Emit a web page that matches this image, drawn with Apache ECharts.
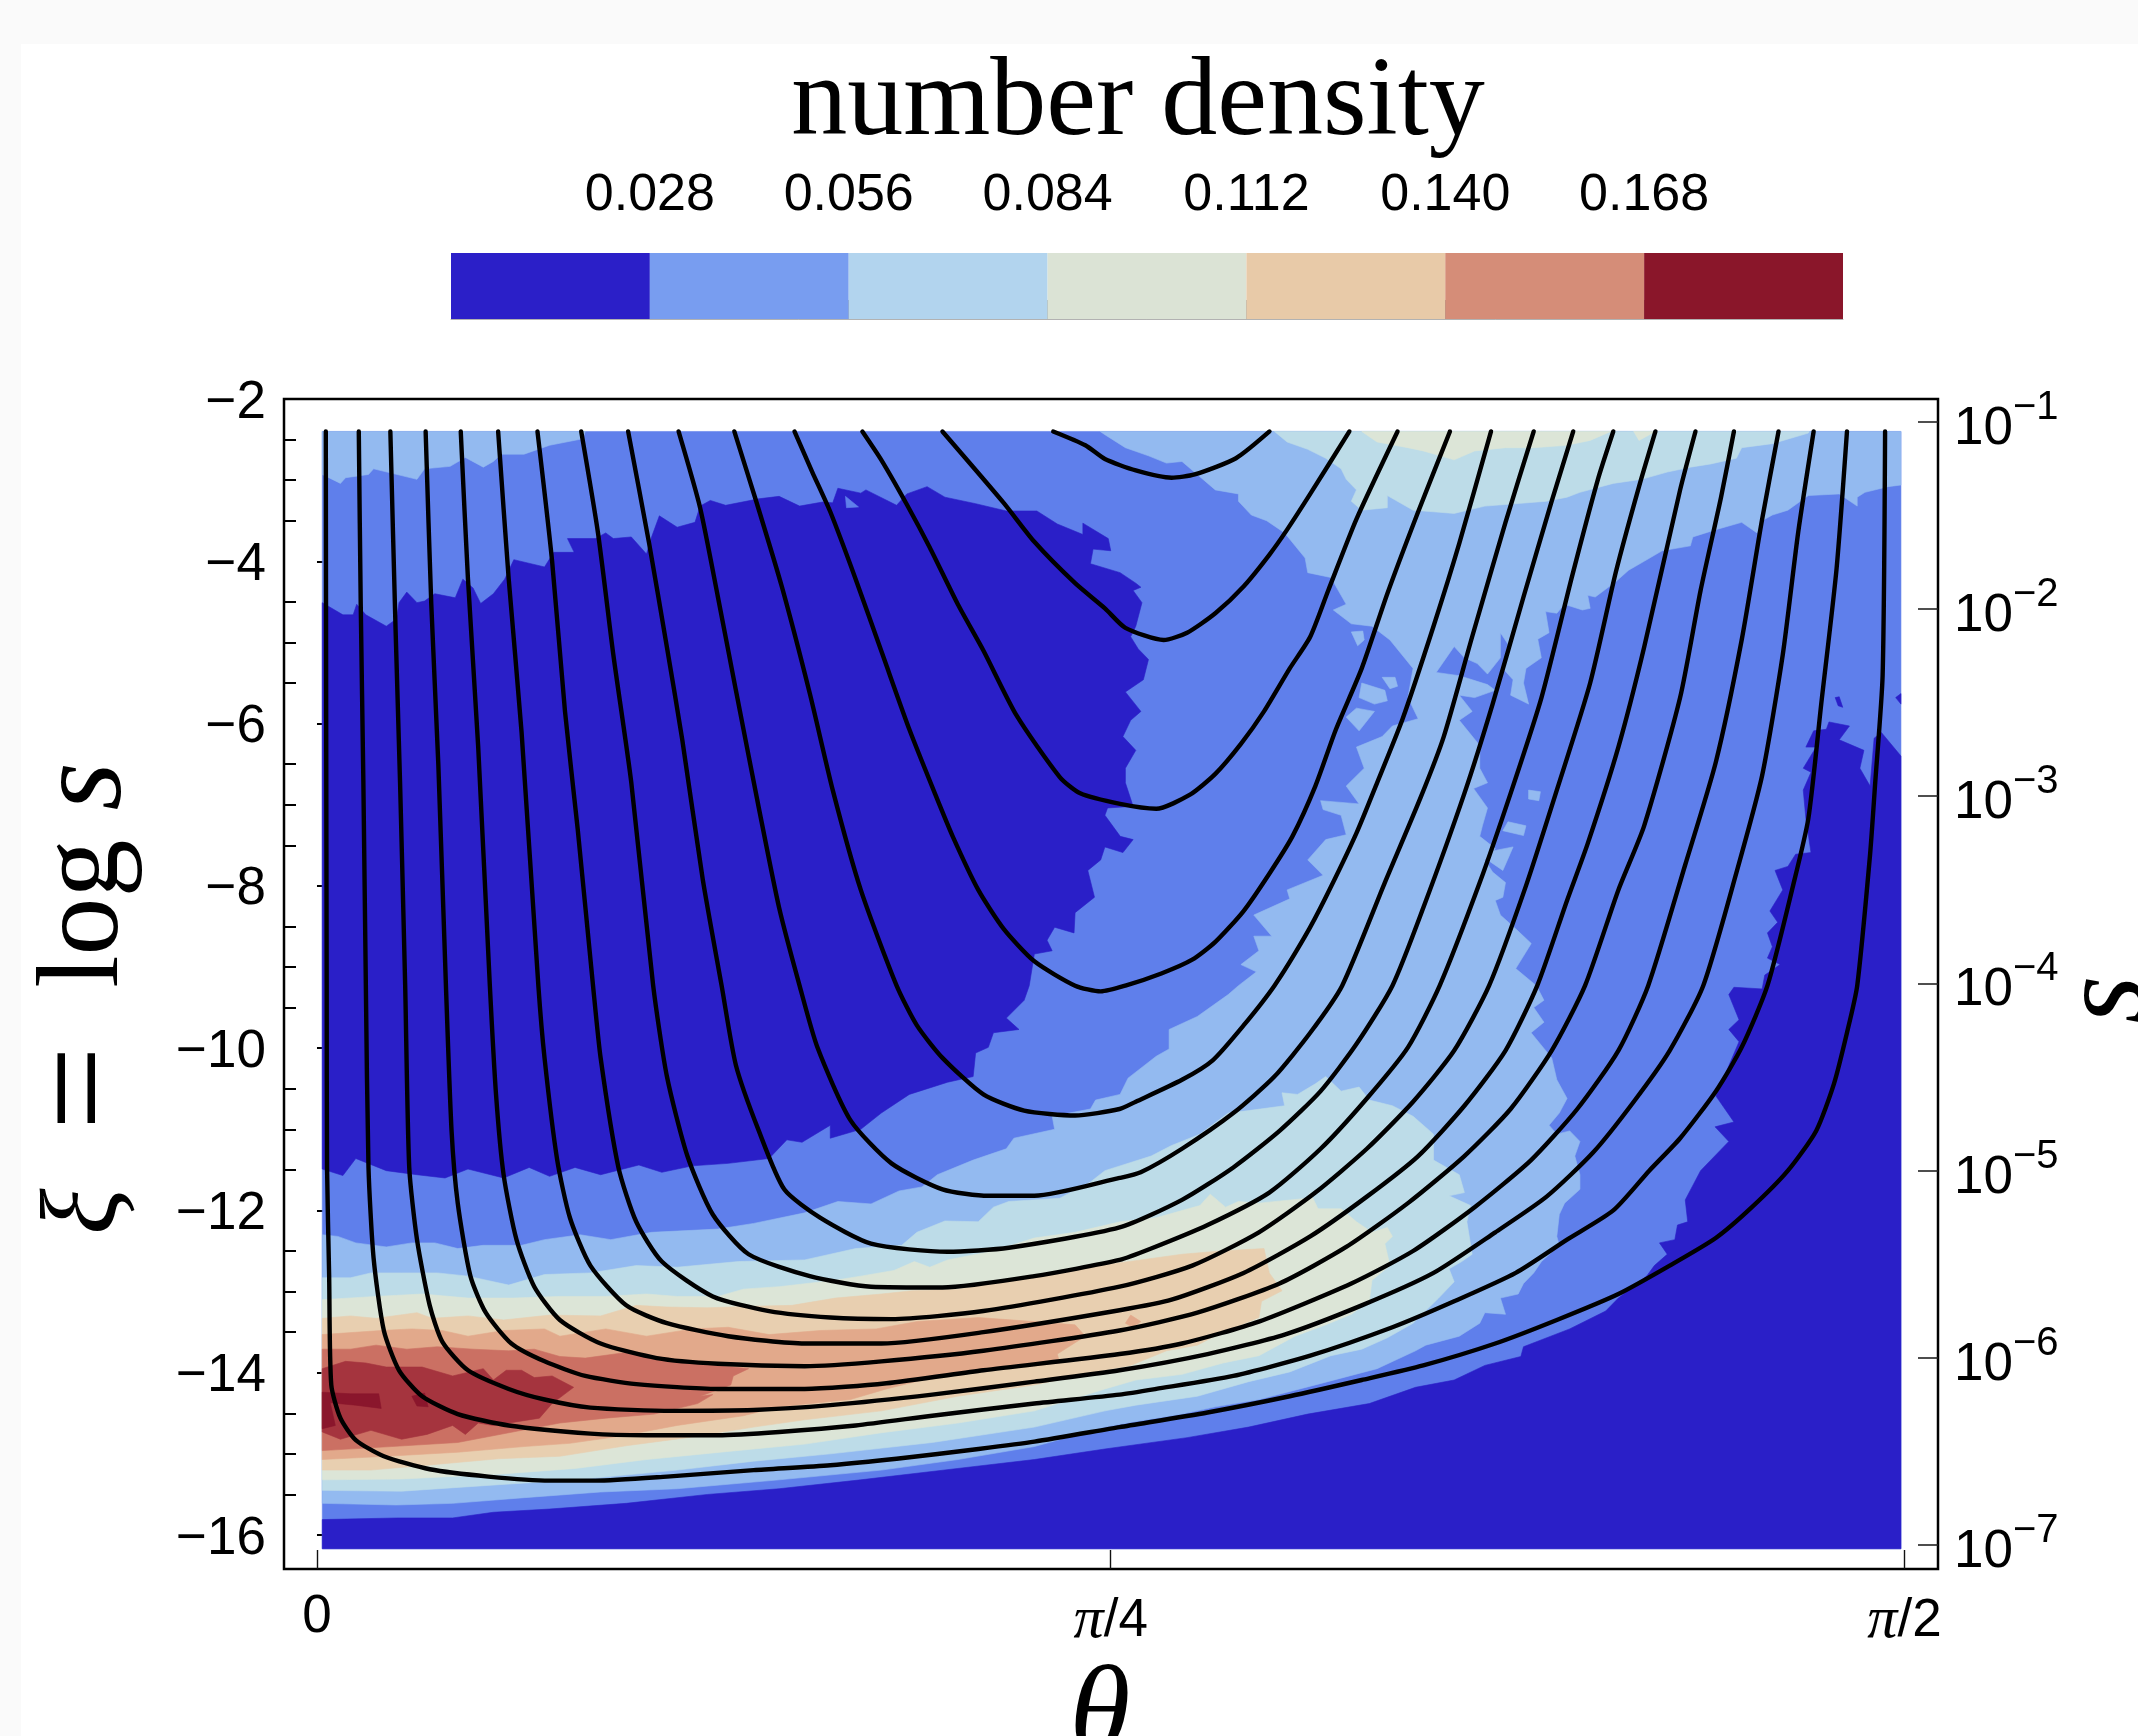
<!DOCTYPE html>
<html><head><meta charset="utf-8"><style>
html,body{margin:0;padding:0;width:2138px;height:1736px;overflow:hidden;background:#fafafa}
#paper{position:absolute;left:21px;top:44px;right:0;bottom:0;background:#fff}
#main{position:absolute;left:0;top:0;width:2138px;height:1736px}
</style></head><body><div id="paper"></div><div id="main"></div>
<script src="https://cdn.jsdelivr.net/npm/echarts@6/dist/echarts.min.js"></script>
<script>
// x values are theta in degrees (0 .. 90 = 0 .. pi/2); y values are xi = log s
const thetaTicks=[0,45,90];
const thetaTickLabels=['0','{i|π}/4','{i|π}/2'];
const xiMajor=[-2,-4,-6,-8,-10,-12,-14,-16];
const xiMinor=[-2.5,-3,-3.5,-4.5,-5,-5.5,-6.5,-7,-7.5,-8.5,-9,-9.5,-10.5,-11,-11.5,-12.5,-13,-13.5,-14.5,-15,-15.5];
const logSTicks=[-1,-2,-3,-4,-5,-6,-7];
const densityTicks=[0.028,0.056,0.084,0.112,0.140,0.168];
const densityEdges=[0,0.028,0.056,0.084,0.112,0.140,0.168,0.196];

const barColors=['#2B1FC8','#789DF0','#B2D4EE','#DBE3D5','#E8CAA8','#D58D78','#8A162A'];
const bandColor={dark:'#2A1FC8',mid:'#5F7FEB',light:'#93BAF0',pale:'#BDDCE8',green:'#DCE5D7',tan:'#E8CFB0',salmon:'#E2A98B',rose:'#CB7063',red:'#A5343E',deep:'#8A162C'};

// filled density bands
const bandAll=[[0.3,-2.4],[89.8,-2.4],[89.8,-16.17],[0.3,-16.17]];
const darkUpper=[[0.3,-4.51],[1.47,-4.66],[2.05,-4.66],[2.25,-4.53],[2.77,-4.66],[3.93,-4.8],[4.51,-4.71],[4.65,-4.51],[5.09,-4.38],[5.67,-4.51],[6.1,-4.49],[6.68,-4.4],[7.84,-4.45],[8.27,-4.22],[8.85,-4.33],[9.28,-4.52],[10,-4.4],[10.64,-4.22],[11.16,-3.98],[12.9,-4.07],[13.42,-3.89],[14.58,-3.89],[14.2,-3.72],[15.79,-3.72],[16.37,-3.65],[16.8,-3.72],[17.82,-3.7],[18.68,-3.91],[18.97,-3.7],[19.41,-3.44],[20.42,-3.58],[21.43,-3.52],[21.72,-3.32],[22.3,-3.25],[23.17,-3.31],[25.05,-3.23],[26.2,-3.2],[27.36,-3.32],[28.66,-3.27],[29.24,-3.28],[29.53,-3.1],[30.83,-3.16],[31.12,-3.12],[32.86,-3.31],[33.44,-3.17],[34.59,-3.08],[35.6,-3.21],[37.34,-3.29],[39.08,-3.38],[40.81,-3.38],[41.97,-3.54],[43.42,-3.67],[43.42,-3.53],[44.86,-3.72],[45,-3.87],[44,-3.85],[43.85,-4.03],[45.53,-4.14],[46.42,-4.27],[46.71,-4.32],[46.27,-4.36],[46.77,-4.51],[46.42,-4.8],[46.13,-4.93],[46.56,-5.08],[47.14,-5.21],[46.85,-5.46],[45.83,-5.61],[46.71,-5.85],[46.13,-5.96],[45.69,-6.16],[46.42,-6.33],[45.83,-6.55],[45.83,-6.73],[46.27,-7.02],[44.82,-7.04],[44.67,-7.13],[45.54,-7.39],[46.27,-7.43],[45.69,-7.59],[44.67,-7.52],[44.43,-7.68],[43.7,-7.81],[44.08,-8.14],[42.98,-8.33],[42.92,-8.58],[41.82,-8.51],[41.39,-8.67],[41.68,-8.8],[40.67,-8.84],[40.38,-9.23],[40.09,-9.41],[39.08,-9.63],[39.8,-9.77],[38.35,-9.81],[38.06,-9.99],[37.34,-10.06],[37.2,-10.35],[35.75,-10.42],[33.58,-10.57],[31.99,-10.8],[30.83,-11],[29.1,-11.11],[29.1,-10.95],[27.5,-11.16],[26.64,-11.13],[25.63,-11.36],[23.31,-11.42],[21.29,-11.45],[19.55,-11.53],[18.25,-11.44],[16.08,-11.56],[14.63,-11.47],[13.19,-11.58],[12.03,-11.47],[10.58,-11.6],[8.56,-11.49],[7.26,-11.6],[5.67,-11.56],[3.93,-11.51],[2.2,-11.36],[1.47,-11.57],[0.3,-11.49]];
const darkLower=[[0.3,-15.81],[4.51,-15.79],[7.69,-15.79],[10,-15.72],[13.19,-15.68],[17.53,-15.61],[22.15,-15.5],[26.2,-15.43],[30.83,-15.32],[36.33,-15.18],[40.67,-15.07],[44.67,-14.94],[49.33,-14.8],[52.82,-14.67],[56.17,-14.51],[59.66,-14.38],[62.28,-14.18],[64.47,-14.09],[66.21,-13.91],[68.25,-13.8],[68.4,-13.68],[71.02,-13.46],[73.06,-13.24],[73.78,-13.08],[75.38,-12.81],[75.82,-12.68],[76.55,-12.54],[76.11,-12.4],[76.98,-12.36],[77.13,-12.18],[77.71,-12.14],[77.57,-11.87],[78.44,-11.51],[80.04,-11.15],[79.26,-10.97],[80.33,-10.91],[79.31,-10.59],[80.62,-9.92],[80.04,-9.77],[80.62,-9.65],[80.04,-9.34],[80.33,-9.25],[81.93,-9.27],[82.08,-9.1],[82.95,-8.97],[82.23,-8.89],[82.51,-8.75],[82.23,-8.58],[82.81,-8.45],[82.37,-8.31],[83.1,-8.05],[82.66,-7.81],[83.39,-7.76],[83.83,-7.61],[84.7,-7.59],[84.41,-7.17],[84.26,-6.82],[84.7,-6.6],[84.26,-6.55],[84.99,-6.29],[84.41,-6.29],[84.85,-6.09],[85.57,-6.07],[85.72,-5.98],[86.88,-6.03],[86.3,-6.2],[87.7,-6.33],[87.47,-6.55],[88.05,-6.77],[88.28,-6.18],[88.69,-6.11],[89.8,-6.4],[89.8,-16.17],[0.3,-16.17]];
const darkSpotA=[[86.07,-5.68],[86.3,-5.67],[86.5,-5.8],[86.24,-5.78]];
const darkSpotB=[[89.5,-5.68],[89.8,-5.63],[89.8,-5.76]];
const midIsland=[[29.96,-3.2],[30.7,-3.33],[30.02,-3.34]];
const lightTopLeft=[[0.3,-2.4],[15.21,-2.4],[15.07,-2.49],[13.19,-2.57],[11.74,-2.68],[10.44,-2.68],[10,-2.77],[9.43,-2.84],[8.41,-2.72],[7.55,-2.83],[6.1,-2.86],[5.67,-2.99],[3.21,-2.86],[2.92,-2.93],[1.62,-2.97],[1.33,-3.04],[0.3,-2.93]];
const lightMain=[[0.3,-12.3],[1.18,-12.32],[2.2,-12.4],[3.93,-12.45],[5.38,-12.4],[6.68,-12.4],[7.98,-12.47],[9.43,-12.43],[11.6,-12.43],[12.9,-12.36],[14.92,-12.3],[16.66,-12.36],[18.97,-12.27],[22.73,-12.23],[24.76,-12.16],[27.65,-12.03],[29.53,-11.89],[31.41,-11.92],[33,-11.76],[34.3,-11.71],[35.17,-11.56],[37.2,-11.38],[39.08,-11.24],[39.51,-11.11],[41.82,-11],[41.68,-10.84],[43.85,-10.75],[44.14,-10.64],[45.53,-10.57],[45.98,-10.37],[47.58,-10.1],[48.31,-10.01],[48.31,-9.77],[49.91,-9.61],[51.66,-9.34],[52.24,-9.23],[53.26,-9.06],[52.38,-8.97],[53.4,-8.8],[53.11,-8.62],[54.13,-8.62],[53.11,-8.36],[55.15,-8.16],[55,-8.05],[57.04,-7.87],[56.17,-7.68],[57.19,-7.43],[58.35,-7.37],[58.06,-7.13],[57.04,-7.06],[56.9,-6.95],[59.08,-6.99],[58.35,-6.77],[59.37,-6.55],[58.93,-6.29],[60.39,-6.16],[60.97,-6.03],[62.43,-5.94],[61.85,-5.68],[62.14,-5.32],[60.83,-4.97],[59.81,-4.8],[58.64,-4.77],[57.62,-4.6],[58.35,-4.53],[57.48,-4.2],[56.17,-4.14],[56.02,-3.96],[54.86,-3.65],[53.84,-3.5],[52.97,-3.43],[52.24,-3.26],[52.24,-3.17],[50.93,-3.12],[49.04,-2.77],[48.16,-2.79],[47.14,-2.7],[45.83,-2.6],[44.67,-2.44],[44.4,-2.4],[89.8,-2.4],[89.8,-3.06],[89.07,-3.08],[87.76,-3.15],[87.32,-3.21],[87.32,-3.32],[86.3,-3.17],[84.55,-3.19],[83.39,-3.37],[82.51,-3.43],[81.93,-3.5],[81.64,-3.65],[80.77,-3.52],[79.31,-3.61],[78,-3.7],[77.86,-3.81],[76.26,-3.87],[75.24,-4],[74.36,-4.11],[73.64,-4.25],[72.47,-4.44],[72.04,-4.42],[72.18,-4.58],[71.74,-4.6],[70.72,-4.53],[70.29,-4.64],[69.65,-4.62],[69.85,-4.88],[69.21,-4.96],[69.41,-5.19],[68.54,-5.32],[68.4,-5.5],[68.69,-5.76],[67.67,-5.65],[67.81,-5.46],[67.23,-5.32],[67.52,-5.02],[67.09,-4.88],[67.09,-5.19],[66.36,-5.39],[65.78,-5.26],[65.05,-5.19],[64.47,-5.05],[63.45,-5.37],[64.76,-5.41],[66.36,-5.52],[66.8,-5.59],[65.63,-5.68],[64.76,-5.65],[65.49,-5.85],[64.76,-5.96],[65.92,-6.27],[65.92,-6.55],[66.36,-6.73],[65.57,-6.8],[66.36,-7.04],[66.07,-7.26],[65.92,-7.39],[66.8,-7.54],[66.21,-7.68],[66.65,-7.83],[67.38,-7.96],[67.23,-8.14],[66.8,-8.18],[67.09,-8.36],[67.96,-8.53],[68.84,-8.71],[67.96,-9.02],[69.13,-9.23],[69.56,-9.41],[68.98,-9.5],[69.56,-9.68],[68.83,-9.81],[70,-10.12],[70.29,-10.39],[70.87,-10.62],[70.43,-10.8],[69.85,-10.95],[70.29,-11.06],[71.02,-11.02],[71.6,-11.15],[71.31,-11.33],[71.6,-11.56],[71.6,-11.74],[70.73,-11.91],[70.43,-12.05],[70.29,-12.32],[70.43,-12.43],[69.42,-12.63],[68.98,-12.77],[68.4,-12.9],[68.1,-13.03],[67.09,-13.08],[67.38,-13.28],[66.21,-13.26],[65.92,-13.39],[64.76,-13.55],[62.86,-13.66],[62.28,-13.73],[60.1,-13.95],[56.6,-14.15],[53.4,-14.33],[50.93,-14.42],[49.04,-14.51],[46.42,-14.6],[44.67,-14.67],[40.67,-14.91],[36.33,-15.07],[32,-15.2],[26.2,-15.32],[20.42,-15.43],[16.08,-15.47],[11.74,-15.54],[7.69,-15.61],[4.51,-15.63],[0.3,-15.61]];
const lightIslandA=[[58.64,-4.87],[59.29,-4.86],[59.37,-4.97],[59,-5.04]];
const lightIslandB=[[60.39,-5.43],[61.12,-5.43],[61.26,-5.54],[60.83,-5.57]];
const lightIslandC=[[59.23,-5.5],[60.54,-5.59],[60.68,-5.72],[59.95,-5.76],[59.08,-5.68]];
const lightIslandD=[[58.93,-5.81],[59.95,-5.85],[59.08,-6.09],[58.35,-5.92]];
const lightIslandE=[[68.69,-6.82],[69.36,-6.84],[69.27,-6.95],[68.69,-6.93]];
const lightIslandF=[[67.52,-7.21],[68.54,-7.26],[68.4,-7.38],[67.23,-7.32]];
const lightIslandG=[[66.65,-7.57],[67.81,-7.52],[67.23,-7.81],[66.36,-7.68]];
const paleTop=[[54.28,-2.4],[55,-2.53],[56.17,-2.62],[57.19,-2.73],[58.06,-2.86],[58.35,-2.99],[58.93,-3.12],[58.64,-3.26],[59.23,-3.37],[60.68,-3.34],[60.68,-3.19],[62.14,-3.37],[63.3,-3.39],[64.47,-3.41],[66.21,-3.32],[67.38,-3.3],[69.71,-3.26],[70.87,-3.21],[71.6,-3.15],[73.49,-3.04],[75.09,-2.99],[76.55,-2.9],[77.86,-2.84],[79.02,-2.8],[80.47,-2.73],[80.77,-2.6],[82.51,-2.55],[84.55,-2.42],[84.6,-2.4]];
const greenTop=[[59.23,-2.4],[60.1,-2.53],[61.85,-2.6],[62.72,-2.64],[64.47,-2.75],[65.63,-2.64],[67.38,-2.6],[68.98,-2.6],[70.87,-2.57],[72.18,-2.51],[73.35,-2.4]];
const greenTopSmall=[[74.65,-2.4],[74.95,-2.51],[75.88,-2.4]];
const paleMain=[[0.3,-12.83],[1.9,-12.83],[3.06,-12.77],[4.8,-12.77],[6.82,-12.77],[8.56,-12.81],[10.87,-12.92],[12.9,-12.79],[15.5,-12.77],[18.1,-12.68],[20.42,-12.7],[23.89,-12.63],[27.65,-12.61],[30.54,-12.47],[33.15,-12.43],[34.01,-12.27],[35.6,-12.13],[37.49,-12.14],[38.35,-11.96],[39.22,-11.89],[42.11,-11.85],[43.85,-11.65],[44.67,-11.51],[47.29,-11.33],[48.45,-11.2],[50.06,-11.06],[51.66,-10.8],[52.82,-10.77],[54.86,-10.71],[54.71,-10.55],[55.59,-10.57],[56.6,-10.44],[57.19,-10.35],[58.06,-10.53],[59.08,-10.48],[59.66,-10.64],[60.97,-10.71],[62.14,-10.84],[63.3,-11.06],[63.3,-11.38],[64.76,-11.56],[65.05,-11.78],[64.18,-11.82],[65.4,-11.94],[65.19,-12.14],[65.49,-12.54],[64.9,-12.63],[64.18,-12.72],[64.47,-12.88],[63.59,-13.08],[62.14,-13.39],[60.68,-13.57],[59.23,-13.71],[57.48,-13.79],[55.15,-13.99],[52.82,-14.11],[49.91,-14.29],[46.42,-14.4],[44.67,-14.47],[40.67,-14.67],[34.88,-14.86],[29.1,-15],[24.76,-15.09],[20.42,-15.2],[14.63,-15.32],[10.29,-15.38],[4.8,-15.46],[0.3,-15.45]];
const greenMain=[[0.3,-13.1],[3.35,-13.06],[5.96,-13.03],[8.56,-13.08],[11.16,-13.08],[13.77,-13.06],[16.37,-13.06],[18.68,-13.03],[20.42,-13.06],[22.73,-13.06],[24.18,-12.97],[26.2,-12.94],[29.39,-12.86],[30.83,-12.81],[32.71,-12.74],[33.87,-12.63],[34.74,-12.7],[35.75,-12.61],[38.35,-12.5],[40.67,-12.34],[42.98,-12.27],[45.53,-12.14],[47.58,-12.09],[50.06,-11.94],[50.64,-11.8],[51.51,-11.96],[52.24,-11.89],[53.4,-11.91],[56.17,-11.85],[56.31,-11.78],[56.75,-11.98],[58.06,-11.98],[58.93,-12.14],[59.81,-12.27],[60.68,-12.21],[60.97,-12.32],[60.54,-12.41],[60.83,-12.68],[59.81,-12.86],[59.66,-13.12],[58.64,-13.28],[57.19,-13.41],[55.44,-13.55],[53.4,-13.79],[51.37,-13.88],[49.04,-14.02],[46.42,-14.09],[44.67,-14.2],[40.67,-14.47],[36.33,-14.62],[32,-14.74],[27.65,-14.88],[23.31,-14.97],[18.68,-15.07],[14.63,-15.18],[10.29,-15.25],[4.8,-15.31],[0.3,-15.32]];
const tanMain=[[0.3,-13.33],[1.9,-13.3],[3.35,-13.33],[5.67,-13.26],[6.53,-13.33],[8.56,-13.3],[10.58,-13.35],[13.19,-13.29],[16.08,-13.3],[18.1,-13.17],[19.84,-13.19],[22.15,-13.2],[24.76,-13.18],[26.93,-13.17],[29.39,-13.08],[32,-13.03],[33.73,-12.99],[36.33,-12.97],[40.67,-12.81],[43.56,-12.7],[46.71,-12.61],[49.04,-12.54],[51.22,-12.5],[53.69,-12.47],[53.99,-12.77],[54.71,-12.99],[53.55,-13.12],[53.4,-13.32],[51.07,-13.53],[49.91,-13.66],[48.16,-13.73],[46.13,-13.91],[44.67,-13.97],[40.67,-14.15],[36.33,-14.29],[32,-14.47],[27.65,-14.58],[24.76,-14.67],[21,-14.8],[17.53,-14.9],[13.77,-15.03],[10.29,-15.06],[6.24,-15.14],[3.06,-15.2],[0.3,-15.2]];
const salmonMain=[[0.3,-13.53],[3.64,-13.48],[5.38,-13.46],[7.11,-13.48],[8.56,-13.55],[10.58,-13.48],[12.9,-13.46],[13.77,-13.55],[16.37,-13.46],[18.68,-13.55],[21.29,-13.46],[23.31,-13.44],[25.63,-13.53],[28.52,-13.48],[31.7,-13.46],[34.01,-13.37],[37.49,-13.32],[40.67,-13.37],[42.98,-13.41],[43.56,-13.55],[41.97,-13.77],[42.11,-13.88],[40.09,-13.93],[37.78,-13.97],[34.88,-14.06],[32.28,-14.2],[30.25,-14.33],[26.2,-14.42],[24.18,-14.53],[20.42,-14.65],[17.24,-14.78],[14.34,-14.87],[11.74,-14.91],[7.98,-14.98],[3.93,-15.03],[0.3,-15.07]];
const salmonStar=[[45.83,-13.39],[46.13,-13.29],[46.71,-13.37],[46.27,-13.44]];
const roseMain=[[0.3,-13.71],[1.9,-13.71],[3.35,-13.66],[5.09,-13.71],[6.82,-13.68],[8.85,-13.71],[10.87,-13.73],[12.32,-13.71],[13.77,-13.8],[15.21,-13.82],[17.53,-13.75],[19.84,-13.82],[22.73,-13.91],[24.47,-13.95],[23.6,-14.04],[23.46,-14.15],[21.72,-14.29],[22.44,-14.27],[21.58,-14.38],[19.12,-14.51],[16.37,-14.56],[13.77,-14.62],[10.87,-14.74],[7.98,-14.86],[4.22,-14.91],[0.3,-14.96]];
const redMain=[[0.3,-13.95],[1.62,-13.86],[2.77,-13.88],[3.93,-13.93],[5.96,-13.93],[7.69,-14.04],[9.43,-13.95],[10,-14.09],[10.73,-13.97],[11.6,-13.97],[12.32,-14.06],[13.33,-14.04],[14.55,-14.18],[13.33,-14.38],[12.61,-14.56],[11.45,-14.6],[10,-14.65],[9.14,-14.62],[8.41,-14.76],[7.69,-14.65],[6.24,-14.76],[4.8,-14.82],[3.06,-14.71],[1.33,-14.82],[0.3,-14.73]];
const deepMain=[[0.3,-14.24],[1.9,-14.26],[3.5,-14.26],[3.64,-14.44],[2.2,-14.4],[0.75,-14.37],[1.04,-14.65],[0.3,-14.69]];
const deepStar=[[5.38,-14.29],[6.1,-14.25],[6.3,-14.42],[5.67,-14.41]];

// black level curves (outermost first)
const curve01=[[0.5,-2.4],[0.52,-5.85],[0.55,-9.23],[0.57,-11.47],[0.69,-12.81],[0.81,-14.15],[1.33,-14.56],[2.2,-14.83],[3.79,-15.03],[6.39,-15.19],[9.72,-15.28],[13.19,-15.33],[15.79,-15.33],[19.84,-15.28],[24.76,-15.2],[29.1,-15.14],[32.86,-15.06],[37.5,-14.94],[40.67,-14.85],[45.5,-14.67],[50.49,-14.49],[55.15,-14.29],[59.23,-14.09],[62.72,-13.91],[66.8,-13.64],[70.29,-13.35],[73.78,-13.03],[76.69,-12.68],[79.3,-12.34],[81.35,-11.96],[83.39,-11.51],[84.99,-11.02],[86,-10.44],[86.74,-9.81],[87.32,-9.23],[88.05,-7.61],[88.34,-6.73],[88.76,-5.41],[88.9,-2.4]];
const curve02=[[2.37,-2.4],[2.48,-4.53],[2.63,-6.73],[2.77,-9.23],[2.92,-11.47],[3.21,-12.59],[3.79,-13.48],[4.65,-13.97],[5.96,-14.29],[7.98,-14.51],[10.87,-14.65],[15.5,-14.75],[18.68,-14.77],[22.73,-14.77],[26.2,-14.73],[30.54,-14.65],[34.88,-14.53],[40.67,-14.38],[45.5,-14.27],[47.58,-14.2],[51.95,-14.04],[56.31,-13.79],[60.97,-13.44],[64.47,-13.12],[67.96,-12.77],[70.87,-12.36],[73.49,-12],[75.53,-11.51],[77.28,-11.11],[79.31,-10.53],[80.77,-9.99],[82.23,-9.23],[83.68,-8],[84.55,-7.17],[85.28,-5.76],[86.15,-4.09],[86.74,-2.4]];
const curve03=[[4.16,-2.4],[4.45,-4.8],[4.71,-6.73],[5,-9.23],[5.23,-11.47],[5.67,-12.36],[6.39,-13.17],[7.11,-13.62],[8.56,-13.97],[10.87,-14.2],[12.9,-14.33],[15.5,-14.43],[20.13,-14.47],[24.76,-14.46],[29.1,-14.4],[34.88,-14.27],[40.67,-14.11],[45.5,-13.97],[50.49,-13.77],[54.86,-13.53],[59.23,-13.17],[63.3,-12.77],[66.8,-12.27],[69.71,-11.83],[72.33,-11.29],[74.65,-10.66],[76.69,-10.03],[78.59,-9.23],[80.48,-7.83],[81.93,-6.64],[83.1,-5.15],[83.97,-3.65],[84.85,-2.4]];
const curve04=[[6.16,-2.4],[6.48,-4.53],[6.88,-6.51],[7.31,-9.23],[7.63,-11.02],[7.98,-11.91],[8.7,-12.81],[9.57,-13.26],[11.02,-13.64],[12.9,-13.86],[15.21,-14.04],[18.1,-14.14],[22.73,-14.2],[27.65,-14.2],[32.28,-14.13],[37.78,-13.97],[45.5,-13.77],[49.04,-13.64],[53.4,-13.37],[58.64,-12.9],[62.14,-12.5],[65.63,-11.96],[68.83,-11.38],[71.45,-10.75],[73.78,-10.03],[75.47,-9.23],[77.57,-7.74],[79.31,-6.47],[80.77,-4.97],[81.93,-3.48],[82.86,-2.4]];
const curve05=[[8.15,-2.4],[8.56,-4.22],[9.14,-6.29],[9.8,-9.23],[10.15,-10.57],[10.58,-11.56],[11.31,-12.36],[12.32,-12.94],[13.77,-13.35],[16.08,-13.64],[19.26,-13.82],[22.73,-13.89],[27.65,-13.92],[32,-13.86],[37.78,-13.73],[45.5,-13.48],[49.91,-13.26],[54.57,-12.9],[58.35,-12.45],[61.85,-11.91],[65.05,-11.33],[67.67,-10.75],[70,-10.03],[71.89,-9.23],[73.78,-8.05],[75.24,-7.26],[77.28,-5.68],[78.44,-4.36],[79.6,-3.21],[80.33,-2.4]];
const curve06=[[10.27,-2.4],[10.87,-4.22],[11.6,-6.11],[12.55,-9.23],[12.9,-10.12],[13.62,-11.38],[14.34,-12.09],[15.5,-12.68],[17.53,-13.17],[19.84,-13.39],[23.31,-13.55],[27.65,-13.64],[32,-13.64],[37.78,-13.5],[45.5,-13.23],[48.45,-13.1],[52.53,-12.77],[56.31,-12.32],[59.52,-11.83],[62.43,-11.33],[65.05,-10.71],[67.38,-10.03],[69.18,-9.23],[70.87,-8.18],[72.04,-7.48],[73.78,-6.29],[75.24,-5.06],[77.28,-3.12],[78.15,-2.4]];
const curve07=[[12.5,-2.4],[13.33,-4],[14.06,-5.85],[14.78,-7.3],[15.65,-9.23],[16.08,-10.12],[17.09,-11.47],[18.1,-12.14],[19.55,-12.63],[22.44,-13.06],[25.63,-13.24],[29.1,-13.32],[32.57,-13.34],[37.78,-13.24],[45.5,-12.94],[49.62,-12.68],[53.4,-12.27],[56.6,-11.78],[59.52,-11.24],[62.14,-10.66],[64.47,-10.03],[66.45,-9.23],[68.54,-8],[70.29,-6.82],[72.18,-5.5],[73.64,-4.13],[74.95,-3.08],[75.88,-2.4]];
const curve08=[[14.98,-2.4],[15.93,-3.65],[16.8,-5.15],[17.82,-6.73],[19.06,-9.23],[19.84,-10.35],[21,-11.33],[22.44,-12.05],[24.47,-12.54],[27.94,-12.81],[31.41,-12.94],[35.46,-12.95],[40.67,-12.81],[45.5,-12.61],[47.29,-12.47],[50.49,-12.18],[53.99,-11.78],[56.9,-11.24],[59.52,-10.62],[61.85,-9.99],[63.65,-9.23],[65.92,-7.96],[67.67,-6.86],[69.42,-5.68],[71.16,-4.18],[72.62,-2.99],[73.49,-2.4]];
const curve09=[[17.64,-2.4],[18.83,-3.78],[19.84,-5.06],[20.71,-6.2],[21.87,-7.92],[22.94,-9.23],[23.75,-10.21],[25.05,-11.02],[26.49,-11.74],[28.52,-12.09],[31.41,-12.41],[35.75,-12.51],[39.22,-12.46],[45.5,-12.21],[49.04,-11.87],[51.95,-11.47],[54.57,-11.02],[56.9,-10.53],[58.93,-9.95],[60.97,-9.23],[62.72,-8.27],[65.05,-6.86],[66.65,-5.76],[68.4,-4.44],[70,-3.26],[71.22,-2.4]];
const curve10=[[20.5,-2.4],[21.72,-3.34],[22.73,-4.44],[23.75,-5.59],[25.05,-7.04],[26.2,-8.27],[27.36,-9.23],[28.37,-9.99],[30.25,-10.89],[32.57,-11.42],[35.46,-11.74],[38.06,-11.82],[40.67,-11.82],[45.5,-11.6],[46.7,-11.53],[49.04,-11.24],[51.95,-10.8],[54.28,-10.35],[56.31,-9.81],[58.12,-9.23],[60.54,-7.96],[62.57,-6.91],[63.88,-6.16],[65.49,-4.93],[67.38,-3.52],[68.98,-2.4]];
const curve11=[[23.66,-2.4],[24.9,-3.26],[26.35,-4.31],[27.94,-5.63],[29.24,-6.82],[30.83,-8.05],[32.86,-9.23],[34.01,-9.72],[35.46,-10.12],[37.78,-10.57],[40.09,-10.77],[42.98,-10.83],[45.5,-10.75],[46.42,-10.66],[49.04,-10.39],[50.78,-10.15],[52.53,-9.72],[54.28,-9.23],[56.02,-8.62],[57.19,-8.14],[58.93,-7.35],[60.1,-6.73],[61.55,-5.94],[63.3,-4.8],[64.76,-3.78],[66.56,-2.4]];
const curve12=[[27.07,-2.4],[28.08,-2.9],[29.1,-3.39],[30.54,-4.22],[32.13,-5.19],[33.58,-6.07],[35.03,-6.86],[36.04,-7.39],[37.49,-8.05],[38.93,-8.53],[40.67,-8.93],[42.98,-9.23],[44.43,-9.3],[45.83,-9.23],[47.87,-9.08],[49.62,-8.91],[50.93,-8.69],[52.53,-8.31],[53.99,-7.85],[55.3,-7.39],[56.6,-6.77],[57.77,-6.07],[59.23,-5.32],[60.68,-4.4],[62.43,-3.39],[64.23,-2.4]];
const curve13=[[30.92,-2.4],[31.99,-2.75],[33.44,-3.3],[34.74,-3.83],[36.33,-4.53],[37.78,-5.1],[39.66,-5.9],[42.11,-6.66],[43.27,-6.86],[45.53,-6.99],[47.58,-7.05],[49.47,-6.88],[50.93,-6.62],[52.38,-6.25],[53.69,-5.85],[55.15,-5.32],[56.31,-4.93],[57.33,-4.36],[58.93,-3.48],[61.26,-2.4]];
const curve14=[[35.46,-2.4],[38.93,-3.28],[40.67,-3.76],[42.98,-4.27],[44.67,-4.58],[45.83,-4.82],[48,-4.97],[49.33,-4.88],[50.93,-4.64],[52.53,-4.31],[53.99,-3.92],[55,-3.61],[56.31,-3.17],[58.53,-2.4]];
const curve15=[[41.74,-2.4],[43.56,-2.57],[44.67,-2.74],[46.42,-2.88],[48.45,-2.97],[49.76,-2.93],[52.1,-2.73],[54,-2.4]];
const curves=[curve01,curve02,curve03,curve04,curve05,curve06,curve07,curve08,curve09,curve10,curve11,curve12,curve13,curve14,curve15];

const regions=[
 ['mid',bandAll],['dark',darkUpper],['dark',darkLower],['dark',darkSpotA],['dark',darkSpotB],['mid',midIsland],
 ['light',lightTopLeft],['light',lightMain],['light',lightIslandA],['light',lightIslandB],['light',lightIslandC],['light',lightIslandD],['light',lightIslandE],['light',lightIslandF],['light',lightIslandG],
 ['pale',paleTop],['pale',paleMain],['green',greenTop],['green',greenTopSmall],['green',greenMain],['tan',tanMain],['salmon',salmonMain],['salmon',salmonStar],['rose',roseMain],['red',redMain],['deep',deepMain],['deep',deepStar]
];

const ink='#000';
const serif='"Liberation Serif",serif';
const sans='"Liberation Sans",Arial,sans-serif';
const chart=echarts.init(document.getElementById('main'),null,{renderer:'canvas',width:2138,height:1736});
const sansTick={color:ink,fontFamily:sans,fontSize:53};
const tickLabelSup=v=>'{a|10}{b|−'+Math.abs(v)+'}';
chart.setOption({
 animation:false,
 backgroundColor:'transparent',
 title:{text:'number density',left:1133,top:44,textAlign:'center',textStyle:{fontFamily:serif,fontWeight:'normal',fontSize:112,color:ink}},
 grid:[
  {left:284,top:399,width:1654,height:1170,show:true,borderColor:'#000',borderWidth:2.5,backgroundColor:'transparent',outerBoundsMode:'none',containLabel:false},
  {left:451,top:253,width:1392,height:66,outerBoundsMode:'none',containLabel:false}
 ],
 xAxis:[
  {gridIndex:0,type:'value',min:-1.87,max:91.9,position:'bottom',
   name:'θ',nameLocation:'middle',nameGap:88,nameMoveOverlap:false,nameTextStyle:{fontFamily:serif,fontStyle:'italic',fontSize:124,color:ink,padding:[0,22,0,0]},
   axisLine:{show:false},splitLine:{show:false},
   axisTick:{show:true,inside:true,length:19,customValues:thetaTicks,lineStyle:{color:'#111',width:1.4}},
   axisLabel:{show:true,margin:22,customValues:thetaTicks,hideOverlap:false,...sansTick,
    formatter:v=>thetaTickLabels[thetaTicks.indexOf(v)],
    rich:{i:{fontFamily:serif,fontStyle:'italic',fontSize:60,color:ink}}}},
  {gridIndex:1,type:'value',min:0,max:0.196,position:'top',
   axisLine:{show:true,lineStyle:{color:'rgba(0,0,0,0.3)',width:1}},splitLine:{show:false},
   axisTick:{show:true,inside:false,length:19,customValues:densityTicks,lineStyle:{color:'#8a8a8a',width:1}},
   axisLabel:{show:true,margin:31,customValues:densityTicks,color:ink,fontFamily:sans,fontSize:52,formatter:v=>v.toFixed(3)}}
 ],
 yAxis:[
  {gridIndex:0,type:'value',min:-16.419,max:-2,position:'left',
   name:'{i|ξ}  {e|=}  log {s|s} ',nameLocation:'middle',nameGap:122,nameMoveOverlap:false,nameRotate:90,
   nameTextStyle:{fontFamily:serif,fontSize:116,color:ink,rich:{i:{fontFamily:serif,fontStyle:'italic',fontSize:108,color:ink},s:{fontFamily:serif,fontStyle:'italic',fontSize:124,color:ink},e:{fontFamily:serif,fontSize:150,color:ink}}},
   axisLine:{show:false},splitLine:{show:false},
   axisTick:{show:true,inside:true,length:20,customValues:xiMajor,lineStyle:{color:'#000',width:2}},
   axisLabel:{show:true,margin:18,customValues:xiMajor,hideOverlap:false,formatter:v=>'{t|'+String(v).replace('-','−')+'}',
    rich:{t:{color:ink,fontFamily:sans,fontSize:53,lineHeight:54,padding:[8,0,0,0]}}}},
  {gridIndex:0,type:'value',min:-7.128,max:-0.879,position:'right',
   name:'s ',nameLocation:'middle',nameGap:110,nameMoveOverlap:false,nameRotate:90,
   nameTextStyle:{fontFamily:serif,fontStyle:'italic',fontSize:124,color:ink},
   axisLine:{show:false},splitLine:{show:false},
   axisTick:{show:true,inside:true,length:20,customValues:logSTicks,lineStyle:{color:'#222',width:1.6}},
   axisLabel:{show:true,margin:16,customValues:logSTicks,hideOverlap:false,formatter:tickLabelSup,color:ink,
    rich:{a:{fontFamily:sans,fontSize:53,lineHeight:68,verticalAlign:'bottom',color:ink},b:{fontFamily:sans,fontSize:40,lineHeight:68,verticalAlign:'top',color:ink}}}},
  {gridIndex:0,type:'value',min:-16.419,max:-2,position:'left',
   axisLine:{show:false},splitLine:{show:false},axisLabel:{show:false},
   axisTick:{show:true,inside:true,length:12,customValues:xiMinor,lineStyle:{color:'#000',width:2}}},
  {gridIndex:1,type:'value',min:0,max:1,show:false}
 ],
 series:[
  {type:'custom',name:'number density',xAxisIndex:0,yAxisIndex:0,z:1,clip:true,silent:true,
   data:regions.map(r=>r[1][0]),
   renderItem:(params,api)=>{
    const r=regions[params.dataIndex];
    const col=bandColor[r[0]];
    return {type:'polygon',shape:{points:r[1].map(p=>api.coord(p))},style:{fill:col,stroke:col,lineWidth:0.6}};
   }},
  {type:'custom',name:'colour scale',xAxisIndex:1,yAxisIndex:3,z:1,silent:true,
   data:barColors.map((c,i)=>[densityEdges[i],densityEdges[i+1]]),
   renderItem:(params,api)=>{
    const a=api.coord([api.value(0),0]),b=api.coord([api.value(1),1]);
    return {type:'rect',shape:{x:a[0],y:b[1],width:b[0]-a[0],height:a[1]-b[1]},style:{fill:barColors[params.dataIndex]}};
   }},
  ...curves.map((c,i)=>({type:'line',name:'curve '+(i+1),xAxisIndex:0,yAxisIndex:0,z:5,data:c,showSymbol:false,symbol:'none',smooth:0.22,silent:true,
    lineStyle:{color:'#000',width:4.4,cap:'round',join:'round'}}))
 ]
});
</script></body></html>
